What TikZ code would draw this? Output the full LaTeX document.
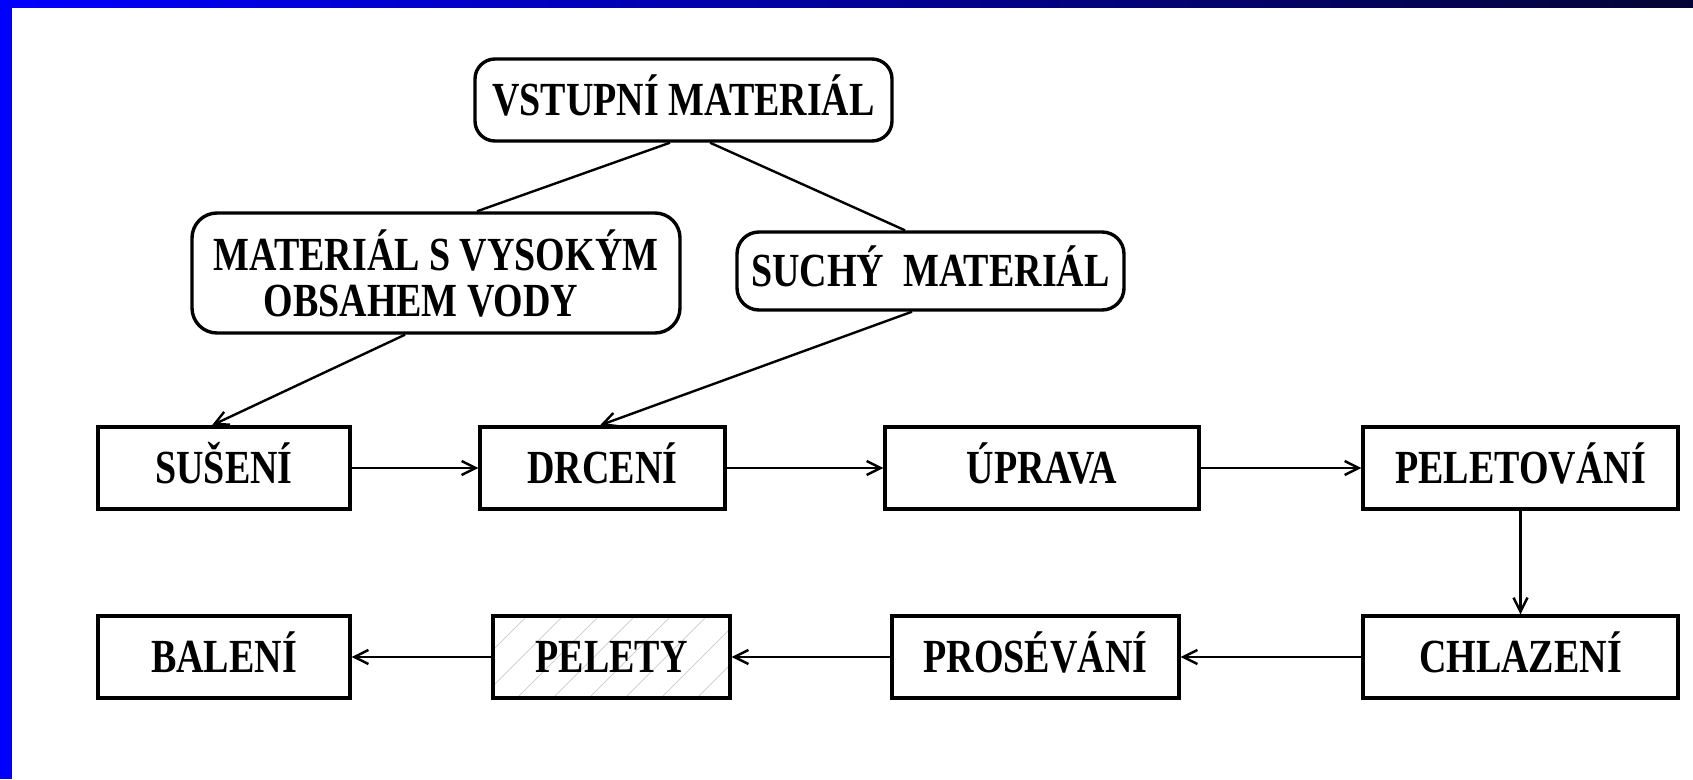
\documentclass[tikz,border=0pt]{standalone}
\usepackage{fontspec}
\setmainfont{Liberation Serif}
\usepackage{graphicx}
\usetikzlibrary{arrows.meta}
\definecolor{navyend}{RGB}{4,4,52}
\definecolor{midblue}{RGB}{0,0,200}
\newcommand\lbl[1]{\scalebox{1}[1.25]{#1}}
\tikzset{
  box/.style={draw, line width=3.4pt, minimum height=82pt, inner sep=0pt,
    font=\bfseries\fontsize{38}{46}\selectfont},
  oneline/.style={text height=31pt, text depth=0pt},
  rbox/.style={box, rounded corners=20pt},
  link/.style={line width=2.4pt},
  flow/.style={line width=2.4pt, -{Straight Barb[length=14pt,width=14pt]}},
  hatch/.style={path picture={
    \foreach \i in {-120,-84,...,260}
      \draw[gray!35, line width=1pt] ([xshift=\i pt]path picture bounding box.south west) -- ++(82,-82);}}
}
\begin{document}
\begin{tikzpicture}[x=1pt,y=-1pt]
\fill[white] (0,0) rectangle (1693,779);
\useasboundingbox (0,0) rectangle (1693,779);
\shade[left color=blue, middle color=midblue, right color=navyend] (0,0) rectangle (1693,7);
\fill[blue] (0,0) rectangle (12,779);

% top nodes
\node[rbox, oneline, minimum width=417pt] (vst) at (683.5,100) {\lbl{VSTUPNÍ MATERIÁL}};
\node[rbox, rounded corners=25pt, minimum width=488pt, minimum height=120pt, align=center] (mvv) at (436,273)
  {\lbl{MATERIÁL S VYSOKÝM}\\\lbl{OBSAHEM VODY}\hspace*{30pt}};
\node[rbox, oneline, rounded corners=22pt, minimum width=387pt, minimum height=78pt] (such) at (930.5,271) {\lbl{SUCHÝ\ \ MATERIÁL}};

% row 1
\node[box, oneline, minimum width=252pt] (sus) at (224,468) {\lbl{SUŠENÍ}};
\node[box, oneline, minimum width=245pt] (drc) at (602.5,468) {\lbl{DRCENÍ}};
\node[box, oneline, minimum width=314pt] (upr) at (1042,468) {\lbl{ÚPRAVA}};
\node[box, oneline, minimum width=315pt] (pel) at (1520.5,468) {\lbl{PELETOVÁNÍ}};
% row 2
\node[box, oneline, minimum width=315pt] (chl) at (1520.5,657) {\lbl{CHLAZENÍ}};
\node[box, oneline, minimum width=287pt] (pro) at (1035.5,657) {\lbl{PROSÉVÁNÍ}};
\node[box, oneline, hatch, minimum width=237pt] (plt) at (611.5,657) {\lbl{PELETY}};
\node[box, oneline, minimum width=252pt] (bal) at (224,657) {\lbl{BALENÍ}};

% connectors
\draw[link] ([xshift=-13.5pt]vst.south) -- ([xshift=41pt]mvv.north);
\draw[link] ([xshift=26.5pt]vst.south) -- ([xshift=-25.5pt]such.north);
\draw[flow] ([xshift=-31pt]mvv.south) -- ([xshift=-12pt]sus.north);
\draw[flow] ([xshift=-18.5pt]such.south) -- ([xshift=-2.5pt]drc.north);
\draw[flow] (sus) -- (drc);
\draw[flow] (drc) -- (upr);
\draw[flow] (upr) -- (pel);
\draw[flow] (pel) -- (chl);
\draw[flow] (chl) -- (pro);
\draw[flow] (pro) -- (plt);
\draw[flow] (plt) -- (bal);
\end{tikzpicture}
\end{document}
